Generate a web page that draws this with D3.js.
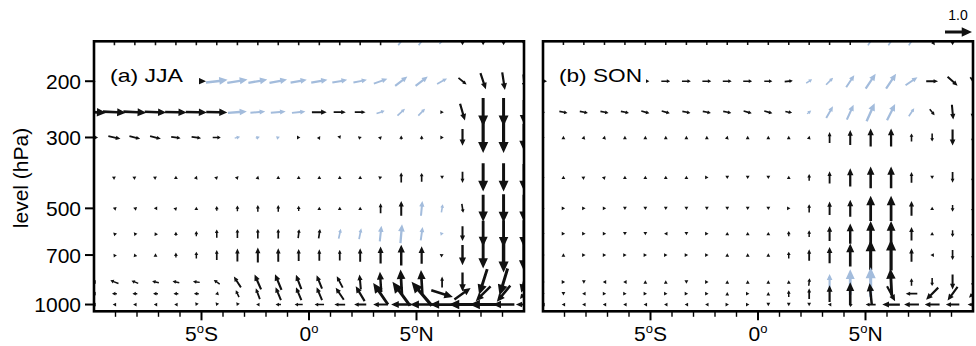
<!DOCTYPE html>
<html>
<head>
<meta charset="utf-8">
<script src="https://cdn.jsdelivr.net/npm/d3@7"></script>
<style>
  body { margin: 0; background: #fff; }
  text { font-family: "Liberation Sans", Arial, Helvetica, sans-serif; fill: #000; }
</style>
</head>
<body>
<svg id="chart" width="976" height="346"></svg>
<script>
// pressure levels (hPa) and longitudes of the grid columns
const levels = [150, 200, 250, 300, 400, 500, 600, 700, 850, 925, 1000];
const lons = [-10, -9.05, -8.1, -7.14, -6.19, -5.24, -4.29, -3.33, -2.38, -1.43, -0.48,
              0.48, 1.43, 2.38, 3.33, 4.29, 5.24, 6.19, 7.14, 8.1, 9.05, 10];

// (a) JJA : horizontal and vertical components, one row per level
const uJJA = [
  [0,0,0,0,0,0,0,0,0,0,0,0,0,0,0,0.22,0.22,0.2,0,0,0,0],
  [0.1,0.5,0.5,0.5,0.5,0.72,0.8,0.75,0.7,0.65,0.6,0.6,0.55,0.5,0.5,0.45,0.45,0.37,0.3,0.2,0.1,0.05],
  [0.9,0.85,0.85,0.8,0.8,0.78,0.78,0.7,0.55,0.55,0.5,0.55,0.45,0.4,0.3,0.28,0.25,0.12,0.18,0,0,0],
  [0.3,0.45,0.4,0.4,0.35,0.35,0.3,0.2,0.15,0.12,0.08,0.05,0.03,0.06,0.03,0,0,0.08,0,0,0,0],
  [0,0.03,0.03,0.03,0,0.02,0.05,0.05,0.02,0,0,0,0,0,0.05,0,0,0,0,0,0,0],
  [0,-0.06,-0.06,-0.03,0.03,0,0,0,0,0,0,0,0,0,0,0,0.05,0.05,0.05,0,0,0],
  [0,-0.04,-0.04,-0.04,0,0,0,0,0,0,0.04,0.05,0.08,0.08,0.06,0.06,0.07,0.1,0,0,0,0],
  [0,-0.04,-0.03,0,0,0,0,0,0,0,0,0,0,0,0,0,0,0.04,0,0,0,0],
  [-0.1,-0.3,-0.25,-0.25,-0.25,-0.25,-0.22,-0.26,-0.24,-0.24,-0.2,-0.2,-0.22,-0.05,-0.05,-0.05,-0.05,0,0,-0.3,-0.3,-0.2],
  [-0.1,-0.18,-0.18,-0.18,-0.18,-0.18,-0.12,-0.12,-0.15,-0.2,-0.2,-0.2,-0.3,-0.33,-0.55,-0.65,-0.75,0.8,0.6,-0.55,-0.5,-0.3],
  [-0.08,-0.1,-0.1,-0.1,-0.1,-0.02,-0.02,-0.02,-0.1,-0.2,-0.3,-0.35,-0.4,-0.45,-0.55,-0.75,-0.85,-0.9,-1.0,-1.0,-0.8,-0.6]
];
const wJJA = [
  [0,0.3,0.3,0.3,0.3,0.3,0.3,0.3,0.3,0.3,0.3,0.3,0.3,0.3,0.3,0.3,0.3,0.2,-0.3,-0.3,-0.3,-0.3],
  [0,0,0,0,0,0,0.1,0.12,0.12,0.12,0.1,0.1,0.1,0.1,0.18,0.35,0.35,0.2,-0.25,-0.6,-0.65,-0.5],
  [-0.04,-0.04,-0.04,-0.03,-0.02,-0.02,-0.02,0.05,0.05,0.05,0.05,0,0,0,0.1,0.25,0.25,0,-0.62,-1.05,-1.05,-0.9],
  [0,-0.1,-0.1,-0.1,-0.05,-0.05,0,0.05,0.05,0.05,0,0.08,-0.08,0.02,0.03,0.15,0.15,0,-0.62,-1.15,-1.15,-1.0],
  [0,0.02,0.02,0.02,0.03,0.05,0.05,0.06,0.08,0.08,0.08,0.08,0.1,0.1,0.02,0.37,0.33,-0.06,-0.42,-1.05,-1.05,-1.0],
  [0,0.02,0.02,0,0.03,0.08,0.18,0.22,0.25,0.25,0.2,0.1,0.12,0.12,0.37,0.55,0.55,0.3,-0.33,-1.0,-1.05,-1.0],
  [0,0.04,0.05,0.08,0.15,0.2,0.3,0.33,0.35,0.35,0.33,0.35,0.37,0.4,0.58,0.7,0.5,0.02,-0.55,-0.95,-1.0,-1.0],
  [0,0.06,0.08,0.1,0.18,0.25,0.37,0.48,0.55,0.5,0.45,0.42,0.4,0.5,0.63,0.77,0.65,0.02,-0.75,-1.0,-1.3,-1.2],
  [0,0.12,0.1,0.05,0.05,0.03,0.15,0.4,0.55,0.58,0.53,0.5,0.42,0.55,0.75,0.92,0.88,0.4,-0.7,-0.95,-1.0,-0.8],
  [0,0,0,0,0,0,-0.03,0.25,0.4,0.48,0.48,0.48,0.45,0.55,0.8,0.88,0.88,-0.25,0.43,-0.55,-0.6,-0.4],
  [0,0,0,0,0,-0.05,-0.05,-0.05,0,0,0,0,0,0,0,0,0,0,0,0,0,0]
];
// 1 = light blue vector
const sigJJA = [
  "0000000000000001110000",
  "0000001111111111110000",
  "0000000111100011100000",
  "0000000111000000000000",
  "0000000000000000000000",
  "0000000000000000110000",
  "0000000000001111110000",
  "0000000000000000000000",
  "0000000000000000000000",
  "0000000000000000000000",
  "0000000000000000000000"
];

// (b) SON
const uSON = [
  [0,0,0,0,0,0,0,0,0,0,0,0,0,0,0,0,0.2,0.2,0.2,0.2,0,0],
  [0.3,0.05,0.3,0.3,0.3,0.3,0.33,0.33,0.33,0.33,0.33,0.3,0.3,0.22,0.26,0.3,0.37,0.37,0.44,0.44,0.37,0.2],
  [0.15,0.3,0.3,0.3,0.3,0.3,0.3,0.3,0.3,0.3,0.3,0.3,0.25,0.15,0.25,0.25,0.3,0.3,0.2,0.18,0.05,0],
  [0.12,0,0.02,0.02,0,0,0,0,0,0.02,0,0,0,0.02,0,0,0,0,0,0,0,0],
  [0.08,0,0.03,0.02,0,0,0,0,0.03,0,0,0,0,0,0,0,0,0,0,0,0,0],
  [0.1,0.06,0.06,0.05,0,0,0,0,0,0,0,0,0.05,0,0,0,0,0,0,0,0,0],
  [0.1,0.06,0.06,0.05,0,0,-0.05,0,0.05,0,0,0,0,0,0,0,0,0,0,0,0,0],
  [0.1,0,0.05,0.05,0.05,0.05,0.02,0.02,0.05,0,0,0,0,0,0,0,0,0,0,-0.05,0,0],
  [0.1,0.05,0,-0.05,-0.05,0,0,0,0.05,0,0,0,0,0.03,0,0,0,-0.05,0,0,0,0],
  [0.1,0,-0.05,0.05,0.05,0.05,0.05,0.02,0.05,0,0.05,0,0,0,0,0,-0.08,0.3,-0.43,-0.45,-0.37,-0.3],
  [-0.1,-0.06,-0.06,-0.06,-0.06,-0.05,-0.04,-0.02,-0.02,0.05,0.05,0,0,0,-0.1,-0.05,-0.37,-0.65,-0.55,-0.55,-0.5,-0.4]
];
const wSON = [
  [0,0.28,0.28,0.28,0.28,0.28,0.28,0.28,0.28,0.28,0.28,0.28,0.28,0.28,0.28,0.28,0.3,0.3,0.3,-0.3,-0.3,0],
  [0,0,0,0,0,0,0,0,0,0,0,0,0.03,0.15,0.26,0.45,0.55,0.55,0.3,0,-0.33,-0.3],
  [0,-0.06,-0.06,-0.06,-0.06,-0.08,-0.08,-0.06,-0.06,-0.06,-0.08,-0.08,-0.05,0.12,0.43,0.55,0.67,0.6,0.3,-0.22,-0.55,-0.5],
  [0,0.07,0.07,0.07,0.07,0.07,0.07,0.07,0.07,0.07,0.06,0.06,0.06,0.08,0.4,0.55,0.67,0.67,0.3,-0.3,-0.6,-0.4],
  [0,0.05,0.02,0.02,0.02,0.02,0.02,0.03,0,-0.04,-0.04,-0.04,0.03,0.25,0.45,0.67,0.8,0.8,0.4,-0.05,-0.4,-0.4],
  [0,0,0,0,-0.05,-0.05,-0.05,-0.05,-0.05,-0.05,-0.05,-0.05,0,0.3,0.5,0.63,0.93,0.93,0.55,0.05,-0.25,-0.3],
  [0,0,0,0,-0.04,-0.04,0,-0.04,0,0.05,0.06,0.12,0.2,0.25,0.55,0.75,0.93,0.93,0.5,0.02,-0.25,-0.3],
  [0,0.05,0,0,0,0,0,0,0,0.05,0.06,0.12,0.25,0.43,0.6,0.85,1.1,1.15,0.5,0,-0.37,-0.35],
  [0,0,-0.05,0,0,0.05,0.05,-0.04,0,0.05,0.06,0.06,0.1,0.28,0.6,0.95,1.1,1.0,0.27,-0.3,-0.55,-0.4],
  [0,-0.05,0,0,0,0,0,0,0,0.05,0,0.06,0.25,0.4,0.62,0.85,0.78,-0.55,0,-0.45,-0.5,-0.3],
  [0,0,0,0,0,0,0,0,0,0,0,-0.05,-0.03,-0.03,0,0.05,0,0,0,0,0,0]
];
const sigSON = [
  "0000000000000000111000",
  "0000000000000111111000",
  "0000000000000111111000",
  "0000000000000000000000",
  "0000000000000000000000",
  "0000000000000000000000",
  "0000000000000000000000",
  "0000000000000000000000",
  "0000000000000011100000",
  "0000000000000000000000",
  "0000000000000000000000"
];

// axis ticks
const xMajor = [-5, 0, 5];
const xMajorNum = ["5", "0", "5"];
const xMajorHemi = ["S", "", "N"];
const xMinor = [-9, -8, -7, -6, -4, -3, -2, -1, 1, 2, 3, 4, 6, 7, 8, 9];
const yTicks = [200, 300, 500, 700, 1000];
const refValue = 1.0;

const svg = d3.select('#chart');
const plotTop = 41.3, plotBottom = 311.3, panelW = 430;
const blue = '#a3bcdc', black = '#111';

const y = d3.scaleLog().domain([150, 1050]).range([plotTop, plotBottom]);
const vlen = d3.scaleLinear().domain([0, 1]).range([0, 27]); // length of vector 1.0

// filled arrow centred on (cx, cy); sx, sy in pixels
function arrowPath(cx, cy, sx, sy) {
  let L = Math.hypot(sx, sy);
  if (L < 0.05) return null;
  const dx = sx / L, dy = sy / L;
  const Ld = Math.max(L, 3.4);
  let hl = Math.min(11, Math.max(3.4, 0.38 * Ld));
  if (hl > Ld) hl = Ld;
  const hw = Math.max(1.9, 0.46 * hl);
  const sw = Math.min(3.6, 1.0 + 0.07 * Ld) / 2;
  const nx = -dy, ny = dx;
  const tx = cx - dx * Ld / 2, ty = cy - dy * Ld / 2;
  const px = cx + dx * Ld / 2, py = cy + dy * Ld / 2;
  const bx = px - dx * hl, by = py - dy * hl;
  const pts = [
    [tx + nx * sw, ty + ny * sw], [bx + nx * sw, by + ny * sw], [bx + nx * hw, by + ny * hw],
    [px, py],
    [bx - nx * hw, by - ny * hw], [bx - nx * sw, by - ny * sw], [tx - nx * sw, ty - ny * sw]
  ];
  return 'M' + pts.map(p => p[0].toFixed(2) + ',' + p[1].toFixed(2)).join('L') + 'Z';
}

const panels = [
  { key: 'a', label: '(a) JJA', x0: 94, u: uJJA, w: wJJA, sig: sigJJA, yAxis: true, boxW: 95, labW: 73 },
  { key: 'b', label: '(b) SON', x0: 543, u: uSON, w: wSON, sig: sigSON, yAxis: false, boxW: 93, labW: 83 }
];

panels.forEach(p => {
  const x = d3.scaleLinear().domain([-10, 10]).range([p.x0, p.x0 + panelW]);
  const g = svg.append('g');

  g.append('clipPath').attr('id', 'clip-' + p.key)
    .append('rect').attr('x', p.x0).attr('y', plotTop).attr('width', panelW).attr('height', plotBottom - plotTop);

  // vectors
  const vectors = [];
  levels.forEach((lev, i) => {
    lons.forEach((lon, j) => {
      vectors.push({ lon, lev, u: p.u[i][j], w: p.w[i][j], sig: p.sig[i][j] === '1' });
    });
  });
  g.append('g').attr('clip-path', `url(#clip-${p.key})`)
    .selectAll('path')
    .data(vectors.filter(d => Math.hypot(d.u, d.w) > 0))
    .enter()
    .append('path')
    .attr('d', d => arrowPath(x(d.lon), y(d.lev), vlen(d.u), -vlen(d.w)))
    .attr('fill', d => d.sig ? blue : black);

  // panel label sits on a white box
  g.append('rect').attr('x', p.x0 + 10).attr('y', 62).attr('width', p.boxW).attr('height', 38).attr('fill', '#fff');
  g.append('text')
    .attr('x', p.x0 + 16).attr('y', 82)
    .attr('textLength', p.labW).attr('lengthAdjust', 'spacingAndGlyphs')
    .style('font-size', '19px')
    .text(p.label);

  // frame
  g.append('rect').attr('x', p.x0).attr('y', plotTop).attr('width', panelW).attr('height', plotBottom - plotTop)
    .attr('fill', 'none').attr('stroke', '#000').attr('stroke-width', 2.6);

  // x ticks
  g.selectAll('.minor').data(xMinor).enter().append('line')
    .attr('x1', d => x(d)).attr('x2', d => x(d)).attr('y1', plotBottom).attr('y2', plotBottom + 5.5)
    .attr('stroke', '#000').attr('stroke-width', 1.4);
  g.selectAll('.major').data(xMajor).enter().append('line')
    .attr('x1', d => x(d)).attr('x2', d => x(d)).attr('y1', plotBottom).attr('y2', plotBottom + 9)
    .attr('stroke', '#000').attr('stroke-width', 2);
  const lab = g.selectAll('.xlab').data(xMajor).enter().append('text')
    .attr('x', d => x(d)).attr('y', 341)
    .attr('text-anchor', 'middle')
    .style('font-size', '21px');
  lab.append('tspan').text((d, i) => xMajorNum[i]);
  lab.append('tspan').attr('dy', -8).style('font-size', '13px').text('o');
  lab.append('tspan').attr('dy', 8).text((d, i) => xMajorHemi[i]);

  // y ticks and labels on the left panel only
  if (p.yAxis) {
    g.selectAll('.ytick').data(yTicks).enter().append('line')
      .attr('x1', p.x0 - 9).attr('x2', p.x0).attr('y1', d => y(d)).attr('y2', d => y(d))
      .attr('stroke', '#000').attr('stroke-width', 2);
    g.selectAll('.ylab').data(yTicks).enter().append('text')
      .attr('x', p.x0 - 13).attr('y', d => y(d))
      .attr('dy', '0.36em')
      .attr('text-anchor', 'end')
      .style('font-size', '21px')
      .text(d => d);
    g.append('text')
      .attr('transform', `translate(28,178) rotate(-90)`)
      .attr('text-anchor', 'middle')
      .style('font-size', '21px')
      .text('level (hPa)');
  }
});

// reference vector
svg.append('path')
  .attr('d', arrowPath(958.5, 32, vlen(refValue), 0))
  .attr('fill', black);
svg.append('text')
  .attr('x', 958).attr('y', 20)
  .attr('text-anchor', 'middle')
  .style('font-size', '14px')
  .text(refValue.toFixed(1));
</script>
</body>
</html>
